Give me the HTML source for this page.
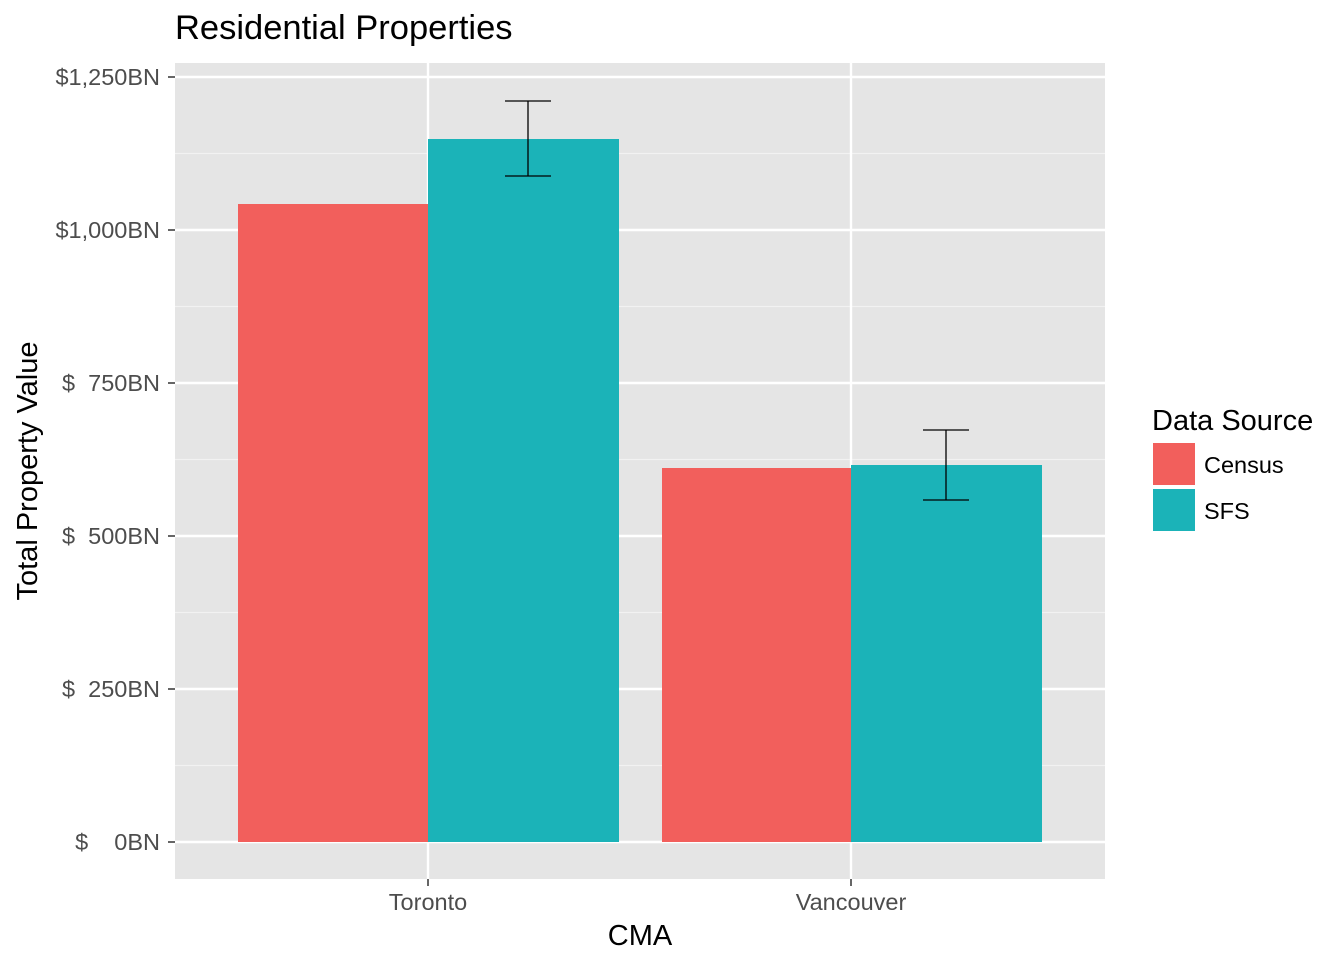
<!DOCTYPE html>
<html><head><meta charset="utf-8"><style>html,body{margin:0;padding:0;background:#fff}</style></head>
<body>
<svg width="1344" height="960" xmlns="http://www.w3.org/2000/svg" font-family="Liberation Sans, sans-serif">
<rect width="1344" height="960" fill="#fff"/>
<rect x="175" y="63" width="930" height="816" fill="#e5e5e5"/>
<g stroke="#f2f2f2" stroke-width="1.2">
<line x1="175" x2="1105" y1="765.5" y2="765.5"/><line x1="175" x2="1105" y1="612.5" y2="612.5"/>
<line x1="175" x2="1105" y1="459.5" y2="459.5"/><line x1="175" x2="1105" y1="306.5" y2="306.5"/>
<line x1="175" x2="1105" y1="153.5" y2="153.5"/>
</g>
<g stroke="#fff" stroke-width="2.4">
<line x1="175" x2="1105" y1="842" y2="842"/><line x1="175" x2="1105" y1="689" y2="689"/>
<line x1="175" x2="1105" y1="536" y2="536"/><line x1="175" x2="1105" y1="383" y2="383"/>
<line x1="175" x2="1105" y1="230" y2="230"/><line x1="175" x2="1105" y1="77" y2="77"/>
<line x1="428" x2="428" y1="63" y2="879"/><line x1="851" x2="851" y1="63" y2="879"/>
</g>
<rect x="238" y="204" width="190" height="638" fill="#f25f5c"/>
<rect x="428" y="139" width="191" height="703" fill="#1bb3b8"/>
<rect x="662" y="468" width="189" height="374" fill="#f25f5c"/>
<rect x="851" y="465" width="191" height="377" fill="#1bb3b8"/>
<g stroke="#000" stroke-width="1.3">
<line x1="528" x2="528" y1="101" y2="176"/><line x1="505" x2="551" y1="101" y2="101"/><line x1="505" x2="551" y1="176" y2="176"/>
<line x1="946" x2="946" y1="430" y2="500"/><line x1="923" x2="969" y1="430" y2="430"/><line x1="923" x2="969" y1="500" y2="500"/>
</g>
<g stroke="#333" stroke-width="1.5">
<line x1="168" x2="175" y1="842" y2="842"/><line x1="168" x2="175" y1="689" y2="689"/>
<line x1="168" x2="175" y1="536" y2="536"/><line x1="168" x2="175" y1="383" y2="383"/>
<line x1="168" x2="175" y1="230" y2="230"/><line x1="168" x2="175" y1="77" y2="77"/>
<line x1="428" x2="428" y1="879" y2="886"/><line x1="851" x2="851" y1="879" y2="886"/>
</g>
<g fill="#4d4d4d" font-size="23.5" text-anchor="end">
<text x="160" y="850">$&#160;&#160;&#160;&#160;0BN</text><text x="160" y="697">$&#160;&#160;250BN</text>
<text x="160" y="544">$&#160;&#160;500BN</text><text x="160" y="391">$&#160;&#160;750BN</text>
<text x="160" y="238">$1,000BN</text><text x="160" y="85">$1,250BN</text>
</g>
<g fill="#4d4d4d" font-size="23.5" text-anchor="middle">
<text x="428" y="910">Toronto</text><text x="851" y="910">Vancouver</text>
</g>
<text x="640" y="945" font-size="29" text-anchor="middle">CMA</text>
<text transform="translate(37,471) rotate(-90)" font-size="29" text-anchor="middle">Total Property Value</text>
<text x="175" y="39" font-size="34.5">Residential Properties</text>
<text x="1152" y="430" font-size="29">Data Source</text>
<rect x="1153" y="443" width="42" height="42" fill="#f25f5c"/>
<rect x="1153" y="489" width="42" height="42" fill="#1bb3b8"/>
<text x="1204" y="473" font-size="23.5">Census</text>
<text x="1204" y="519" font-size="23.5">SFS</text>
</svg>
</body></html>
